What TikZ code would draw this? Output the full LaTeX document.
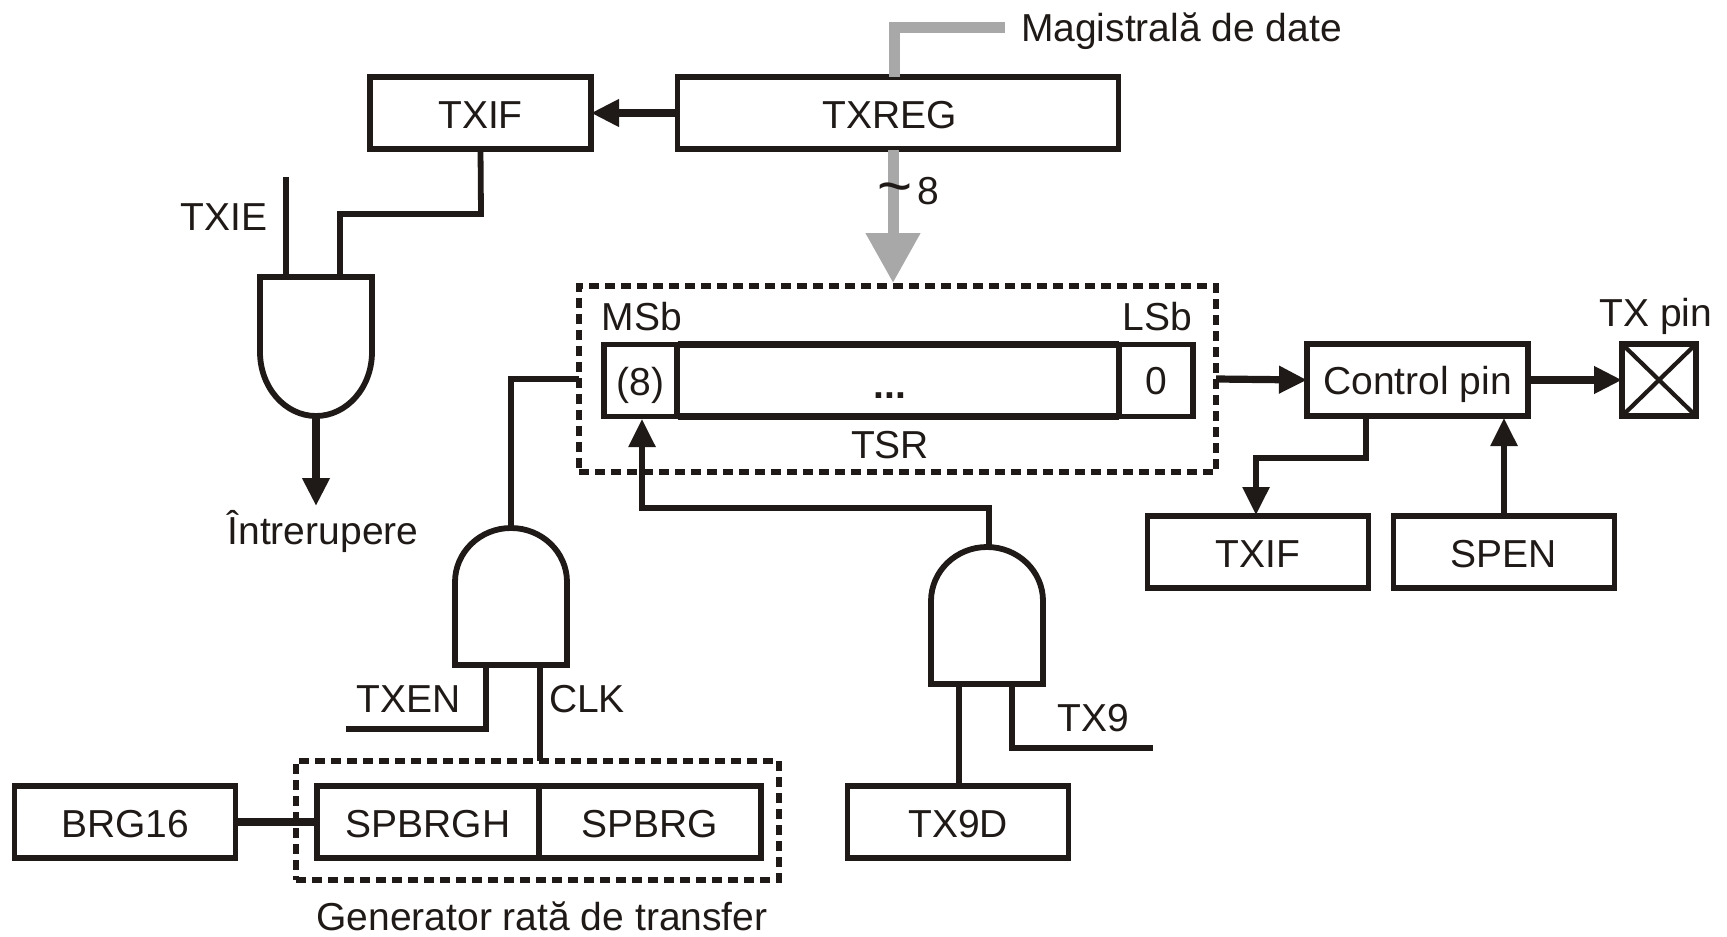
\documentclass[tikz,border=0pt]{standalone}
\usepackage{fontspec}
\setmainfont{Liberation Sans}
\usetikzlibrary{arrows.meta}
\definecolor{ink}{HTML}{1F1A17}
\definecolor{bus}{HTML}{A8A8A8}
\tikzset{
  wire/.style={draw=ink,line width=2.9pt,line join=miter},
  thick wire/.style={wire,line width=3.6pt},
  arrowed/.style={-{Triangle[length=14pt,width=13pt]}},
  box/.style={draw=ink,line width=2.8pt,inner sep=0pt,outer sep=0pt,text=ink,font=\fontsize{19.5}{19.5}\selectfont,text height=15.6pt,text depth=0pt},
  wide box/.style={box,minimum width=110.5pt,minimum height=36pt},
  label/.style={inner sep=0pt,outer sep=0pt,text=ink,font=\fontsize{19.5}{19.5}\selectfont,text height=13.6pt,text depth=0pt},
  frame/.style={draw=ink,line width=3.3pt,dash pattern=on 5pt off 3pt,inner sep=0pt,outer sep=0pt},
  gate/.style={inner sep=0pt,outer sep=0pt,minimum width=56pt},
  busline/.style={draw=bus,line width=5.5pt}
}
\begin{document}
\begin{tikzpicture}[x=0.5pt,y=-0.5pt]
\useasboundingbox (0,0) rectangle (1727,936);
% dashed groups
\node[frame,minimum width=318.5pt,minimum height=93pt] (tsrframe) at (897.5,379) {};
\node[frame,minimum width=241.5pt,minimum height=59.5pt] (genframe) at (537.5,820.5) {};
% boxes
\node[wide box] (txif) at (480.5,113) {TXIF};
\node[box,minimum width=220.5pt,minimum height=36pt] (txreg) at (898,113) {};
\node[box,draw=none,fill=none] (txregt) at (890,113) {TXREG};
\node[box,minimum width=36.5pt,minimum height=36pt,text height=14.6pt] (msb) at (640.5,380.5) {(8)};
\node[box,minimum width=220.5pt,minimum height=36pt,line width=2.6pt] (mid) at (898,380.5) {};
\draw[ink,line width=3.6pt] (mid.north west) -- (mid.north east) (mid.south west) -- (mid.south east);
\node[box,minimum width=37pt,minimum height=36pt,text height=13.6pt] (lsb) at (1156,380.5) {0};
\node[wide box,text height=14.6pt] (ctrl) at (1417.5,380) {Control pin};
\node[box,minimum width=37pt,minimum height=36pt,line width=3.2pt] (pin) at (1659,380) {};
\draw[ink,line width=2.1pt] (pin.north west) -- (pin.south east) (pin.north east) -- (pin.south west);
\node[wide box] (txif2) at (1258,552) {TXIF};
\node[wide box] (spen) at (1504,552) {SPEN};
\node[wide box] (brg) at (125,822) {BRG16};
\node[box,minimum width=111pt,minimum height=36pt] (spbrgh) at (428,822) {SPBRGH};
\node[box,minimum width=111pt,minimum height=36pt] (spbrg) at (650,822) {SPBRG};
\node[wide box] (txnined) at (958,822) {TX9D};
% labels
\node[label,anchor=west] (bustext) at (1021,28) {Magistrală de date};
\node[label] (txie) at (224,217) {TXIE};
\node[label] (intr) at (323,531) {Întrerupere};
\node[label] (msbt) at (642,317) {MSb};
\node[label] (lsbt) at (1157,317) {LSb};
\node[label] (tsr) at (890,445) {TSR};
\node[label,font=\bfseries\fontsize{19.5}{19.5}\selectfont] (dots) at (890,385) {...};
\node[label] (txpin) at (1656,313) {TX pin};
\node[label] (txen) at (409,699) {TXEN};
\node[label] (clk) at (587,699) {CLK};
\node[label] (txnine) at (1093,718) {TX9};
\node[label] (gen) at (542,917) {Generator rată de transfer};
\node[label] (eight) at (928,191) {8};
% gates
\node[gate,minimum height=70pt] (g1) at (316,347) {};
\draw[wire] (g1.north west) -- ++(0,75) arc[start angle=180,end angle=360,x radius=28pt,y radius=32pt] -- (g1.north east) -- cycle;
\node[gate,minimum height=69pt] (g2) at (511,596) {};
\draw[wire] (g2.south west) -- ++(0,-83) arc[start angle=180,end angle=0,x radius=28pt,y radius=27pt] -- (g2.south east) -- cycle;
\node[gate,minimum height=69pt] (g3) at (987,615) {};
\draw[wire] (g3.south west) -- ++(0,-83) arc[start angle=180,end angle=0,x radius=28pt,y radius=27pt] -- (g3.south east) -- cycle;
% bus
\coordinate (busend) at (1005,28);
\draw[busline] (busend) -- (894,28) -- (txreg.north -| 894,0);
\coordinate (bustip) at (893,283);
\coordinate (busstart) at (893,150);
\draw[busline,-{Triangle[length=25pt,width=26pt]}] (busstart) -- (bustip);
\node[label,font=\fontsize{30}{30}\selectfont,text height=10pt] (tilde) at (895,196) {\textasciitilde};
% connectors
\draw[thick wire,arrowed] (txreg.west) -- (txif.east);
\draw[wire] (txif.south) -- (481,214) -- (340,214) -- (340,277);
\coordinate (txieend) at (286,177);
\draw[wire] (txieend) -- (286,277);
\coordinate (intrtip) at (316,506);
\draw[thick wire,arrowed] (316,417) -- (intrtip);
\draw[wire] (tsrframe.west) -- (511,379) -- (g2.north);
\draw[wire] (486,665) -- (486,729) -- (346,729);
\draw[wire] (540,665) -- (genframe.north -| 540,0);
\draw[thick wire] (brg.east) -- (spbrgh.west);
\draw[wire,arrowed] (989,546) -- (989,508) -- (642,508) -- (642,419);
\draw[wire] (959,684) -- (959,785);
\draw[wire] (1012,684) -- (1012,748) -- (1153,748);
\draw[thick wire,arrowed] (tsrframe.east) -- (ctrl.west);
\draw[thick wire,arrowed] (ctrl.east) -- (pin.west);
\draw[wire,arrowed] (1366,418) -- (1366,458) -- (1256,458) -- (1256,515);
\draw[wire,arrowed] (spen.north) -- (1504,418);
\end{tikzpicture}
\end{document}
